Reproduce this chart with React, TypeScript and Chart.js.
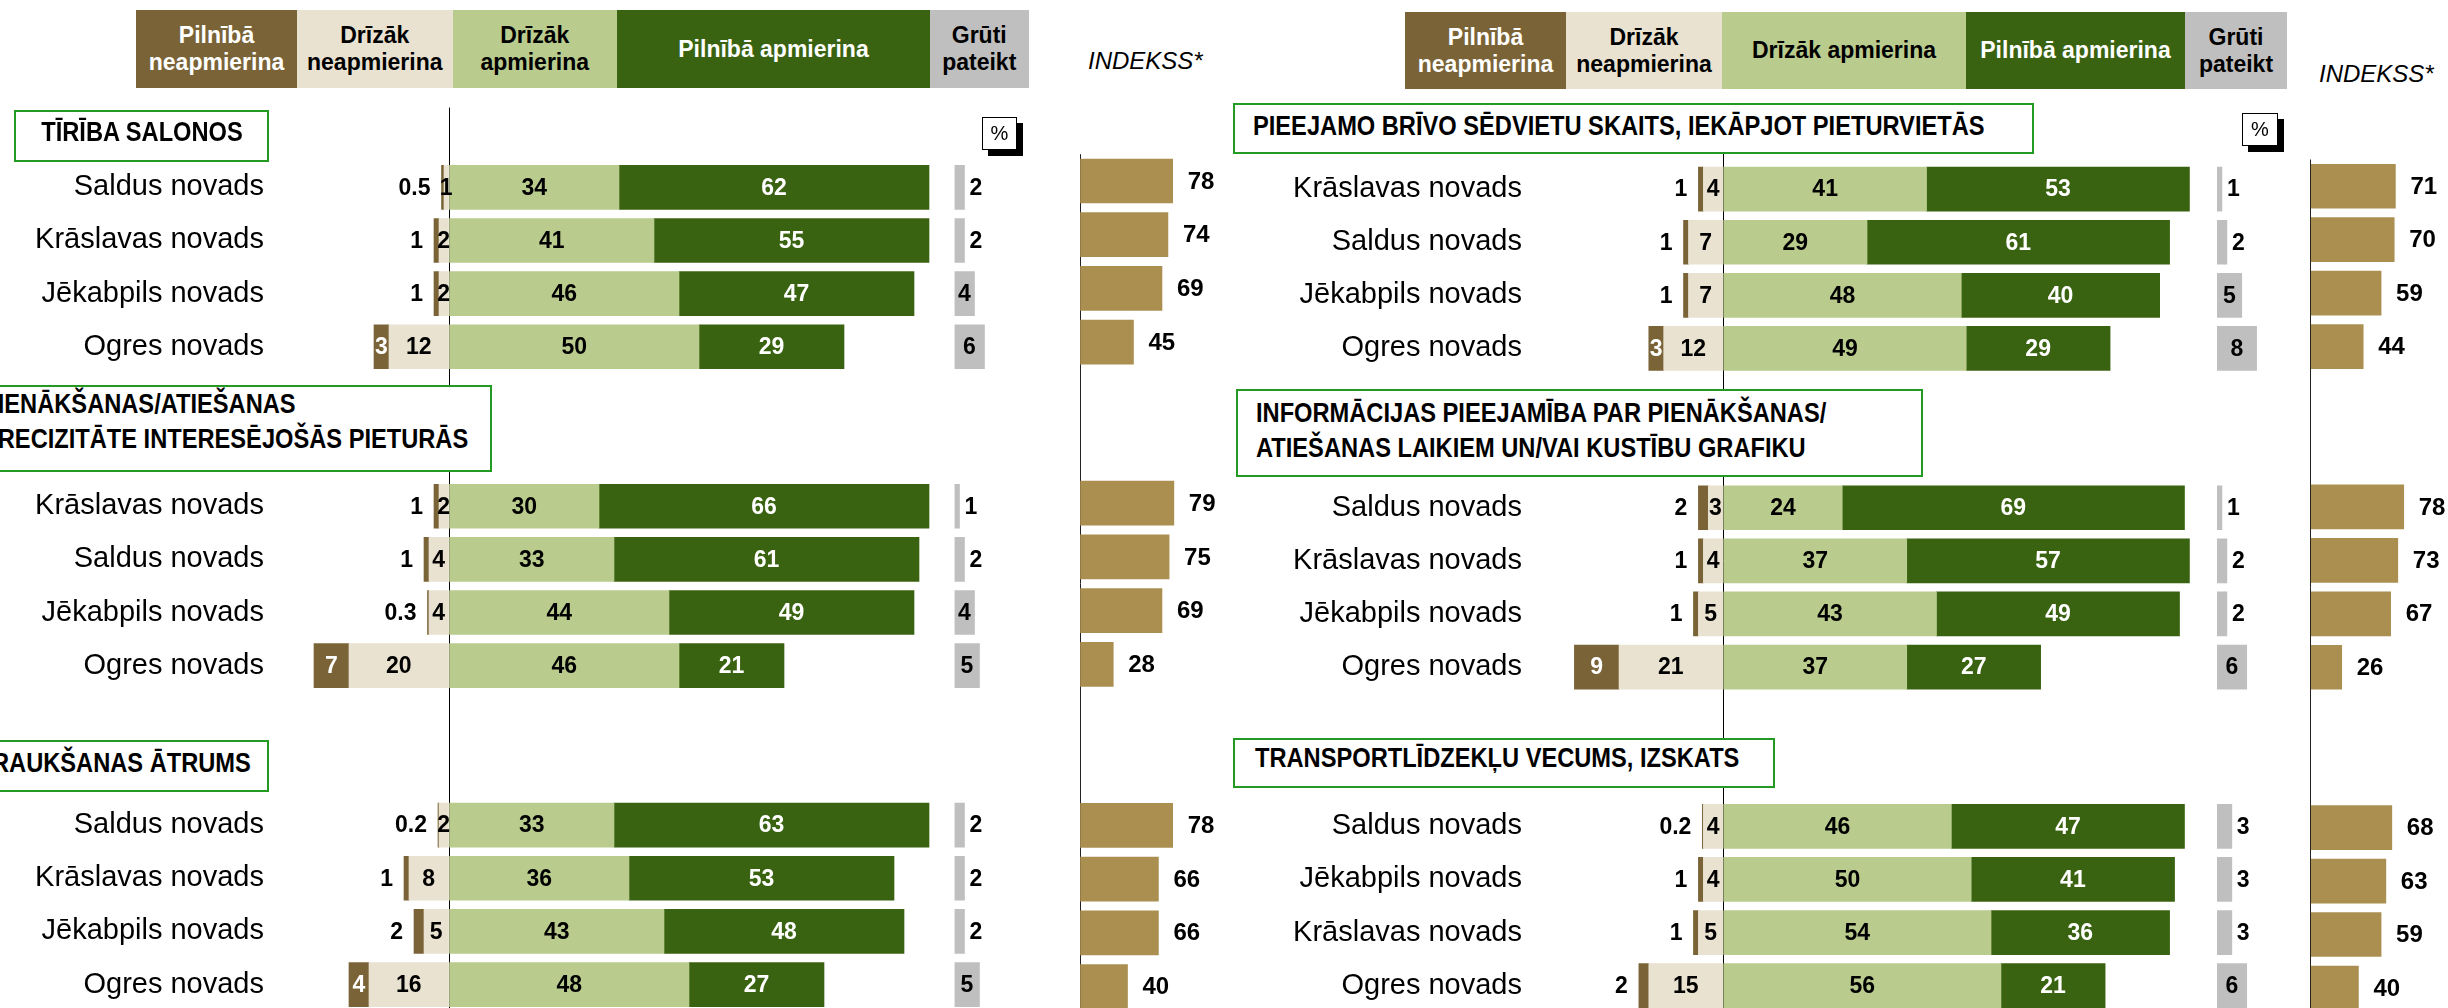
import React, { useEffect, useRef } from 'react';
import { Chart, registerables } from 'chart.js';

Chart.register(...registerables);

const FONT = '"Liberation Sans", Arial, Helvetica, sans-serif';

// ---------------- DATA ----------------
const LEGEND_LABELS = ['Pilnībā neapmierina', 'Drīzāk neapmierina', 'Drīzāk apmierina', 'Pilnībā apmierina', 'Grūti pateikt'];
const INDEX_LABEL = 'INDEKSS*';

// Left panel
const L_TITLES = [
  ['TĪRĪBA SALONOS'],
  ['PIENĀKŠANAS/ATIEŠANAS', 'PRECIZITĀTE INTERESĒJOŠĀS PIETURĀS'],
  ['BRAUKŠANAS ĀTRUMS'],
];
const L_REGIONS = [
  'Saldus novads', 'Krāslavas novads', 'Jēkabpils novads', 'Ogres novads',
  'Krāslavas novads', 'Saldus novads', 'Jēkabpils novads', 'Ogres novads',
  'Saldus novads', 'Krāslavas novads', 'Jēkabpils novads', 'Ogres novads',
];
const L_FULLY_DISSATISFIED = [0.5, 1, 1, 3, 1, 1, 0.3, 7, 0.2, 1, 2, 4];
const L_RATHER_DISSATISFIED = [1, 2, 2, 12, 2, 4, 4, 20, 2, 8, 5, 16];
const L_RATHER_SATISFIED = [34, 41, 46, 50, 30, 33, 44, 46, 33, 36, 43, 48];
const L_FULLY_SATISFIED = [62, 55, 47, 29, 66, 61, 49, 21, 63, 53, 48, 27];
const L_HARD_TO_SAY = [2, 2, 4, 6, 1, 2, 4, 5, 2, 2, 2, 5];
const L_INDEX = [78, 74, 69, 45, 79, 75, 69, 28, 78, 66, 66, 40];

// Right panel
const R_TITLES = [
  ['PIEEJAMO BRĪVO SĒDVIETU SKAITS, IEKĀPJOT PIETURVIETĀS'],
  ['INFORMĀCIJAS PIEEJAMĪBA PAR PIENĀKŠANAS/', 'ATIEŠANAS LAIKIEM UN/VAI KUSTĪBU GRAFIKU'],
  ['TRANSPORTLĪDZEKĻU VECUMS, IZSKATS'],
];
const R_REGIONS = [
  'Krāslavas novads', 'Saldus novads', 'Jēkabpils novads', 'Ogres novads',
  'Saldus novads', 'Krāslavas novads', 'Jēkabpils novads', 'Ogres novads',
  'Saldus novads', 'Jēkabpils novads', 'Krāslavas novads', 'Ogres novads',
];
const R_FULLY_DISSATISFIED = [1, 1, 1, 3, 2, 1, 1, 9, 0.2, 1, 1, 2];
const R_RATHER_DISSATISFIED = [4, 7, 7, 12, 3, 4, 5, 21, 4, 4, 5, 15];
const R_RATHER_SATISFIED = [41, 29, 48, 49, 24, 37, 43, 37, 46, 50, 54, 56];
const R_FULLY_SATISFIED = [53, 61, 40, 29, 69, 57, 49, 27, 47, 41, 36, 21];
const R_HARD_TO_SAY = [1, 2, 5, 8, 1, 2, 2, 6, 3, 3, 3, 6];
const R_INDEX = [71, 70, 59, 44, 78, 73, 67, 26, 68, 63, 59, 40];

// ---------------- STYLE ----------------
const C_BROWN = '#7A6437';
const C_BEIGE = '#E9E2D0';
const C_LGREEN = '#B9CB8D';
const C_DGREEN = '#3A6311';
const C_GRAY = '#BFBFBF';
const C_INDEX = '#AA8F50';
const C_TITLE_BORDER = '#239B23';
const SERIES_COLORS = [C_BROWN, C_BEIGE, C_LGREEN, C_DGREEN, C_GRAY];
const SERIES_TEXT = ['#fff', '#000', '#000', '#fff', '#000'];
const KIND_COLORS: any = { fd: C_BROWN, rd: C_BEIGE, rs: C_LGREEN, fs: C_DGREEN, hard: C_GRAY, idx: C_INDEX };

const LEFT = {
  titles: L_TITLES, regions: L_REGIONS, fd: L_FULLY_DISSATISFIED, rd: L_RATHER_DISSATISFIED,
  rs: L_RATHER_SATISFIED, fs: L_FULLY_SATISFIED, hard: L_HARD_TO_SAY, idx: L_INDEX,
};
const RIGHT = {
  titles: R_TITLES, regions: R_REGIONS, fd: R_FULLY_DISSATISFIED, rd: R_RATHER_DISSATISFIED,
  rs: R_RATHER_SATISFIED, fs: R_FULLY_SATISFIED, hard: R_HARD_TO_SAY, idx: R_INDEX,
};

const LEFT_LAYOUT = {
  mainLeft: 0, labelRight: 264, mainRight: 950, zeroX: 449, unitPx: 5.0,
  rowTop: 107.6, rowStep: 53.15,
  grayLeft: 954.5, grayUnitPx: 5.0,
  idxAxisX: 1080, idxUnitPx: 1.188, idxTop: 154.15, idxStep: 53.7, idxWidth: 150,
  legendX: [136, 297, 452.5, 617, 930, 1028.5], legendTop: 10, legendBottom: 88,
  legendWrap: [true, true, true, false, true],
  indeks: { x: 1088, y: 62 },
  pct: { x: 982, y: 117, w: 35, h: 33 },
  titles: [
    { box: [14, 110, 255, 52], align: 'center', ax: 141.5, ys: [136.3] },
    { box: [-40, 385, 532, 87], align: 'left', ax: -18, ys: [408, 442.5] },
    { box: [-40, 740, 309, 52], align: 'right', ax: 251, ys: [766.5] },
  ],
};
const RIGHT_LAYOUT = {
  mainLeft: 1230, labelRight: 1522, mainRight: 2214, zeroX: 1723.2, unitPx: 4.96,
  rowTop: 109.5, rowStep: 53.1,
  grayLeft: 2217, grayUnitPx: 4.95,
  idxAxisX: 2310.7, idxUnitPx: 1.193, idxTop: 159.5, idxStep: 53.45, idxWidth: 138,
  legendX: [1405, 1566, 1722, 1966, 2185, 2287], legendTop: 12, legendBottom: 89,
  legendWrap: [true, true, false, false, true],
  indeks: { x: 2319, y: 75 },
  pct: { x: 2242, y: 113, w: 36, h: 33 },
  titles: [
    { box: [1233, 103, 801, 51], align: 'left', ax: 1253, ys: [130] },
    { box: [1236, 389, 687, 88], align: 'left', ax: 1256, ys: [417, 452] },
    { box: [1233, 738, 542, 50], align: 'left', ax: 1255, ys: [762] },
  ],
};

// ---------------- HELPERS ----------------
function slots(arr: any[], gap: any, lead: boolean): any[] {
  const out: any[] = lead ? [gap] : [];
  for (let s = 0; s < 3; s++) {
    if (s > 0) out.push(gap, gap);
    for (let k = 0; k < 4; k++) out.push(arr[s * 4 + k]);
  }
  return out;
}

function vBox(top: number, n: number, step: number) {
  const t = Math.floor(top);
  const padTop = top - t;
  const inner = n * step;
  const h = Math.ceil(top + inner) - t;
  return { top: t, height: h, padTop, padBottom: h - padTop - inner };
}

const valueLabels = {
  id: 'valueLabels',
  afterDatasetsDraw(chart: any) {
    const ctx = chart.ctx;
    ctx.save();
    ctx.textBaseline = 'middle';
    chart.data.datasets.forEach((ds: any, di: number) => {
      const meta = chart.getDatasetMeta(di);
      meta.data.forEach((el: any, i: number) => {
        const raw = ds.data[i];
        if (raw === null || raw === undefined) return;
        const v = Math.abs(raw);
        const left = Math.min(el.x, el.base);
        const right = Math.max(el.x, el.base);
        let x = (left + right) / 2;
        let align = 'center';
        let color = '#000';
        ctx.font = `bold ${ds.kind === 'idx' ? 24 : 23}px ${FONT}`;
        if (ds.kind === 'fd') {
          if (v >= 3) color = '#fff';
          else { align = 'right'; x = left - 11; }
        } else if (ds.kind === 'fs') {
          color = '#fff';
        } else if (ds.kind === 'hard') {
          if (v < 4) { align = 'left'; x = right + 5; }
        } else if (ds.kind === 'idx') {
          align = 'left'; x = right + 15;
        }
        ctx.fillStyle = color;
        ctx.textAlign = align;
        ctx.fillText(String(v), x, el.y + 1);
      });
    });
    ctx.restore();
  },
};

const zeroGrid = (col: string) => (c: any) => (c.tick && c.tick.value === 0 ? col : 'rgba(0,0,0,0)');

function baseOptions(vb: any, padLeft = 0) {
  return {
    indexAxis: 'y',
    responsive: false,
    maintainAspectRatio: false,
    animation: false,
    devicePixelRatio: 1,
    layout: { padding: { top: vb.padTop, bottom: vb.padBottom, left: padLeft, right: 0 } },
    plugins: { legend: { display: false }, tooltip: { enabled: false } },
  };
}

function ChartCanvas({ left, top, width, height, config }: any) {
  const ref = useRef<HTMLCanvasElement | null>(null);
  useEffect(() => {
    const chart = new Chart(ref.current as HTMLCanvasElement, config());
    return () => chart.destroy();
  }, []);
  return (
    <canvas ref={ref} width={width} height={height}
      style={{ position: 'absolute', left, top, width, height }} />
  );
}

function Panel({ D, L }: any) {
  // main diverging chart
  const mvb = vBox(L.rowTop, 17, L.rowStep);
  const mainW = L.mainRight - L.mainLeft;
  const axisW = L.labelRight - L.mainLeft;
  const xMin = (L.labelRight - L.zeroX) / L.unitPx;
  const xMax = (L.mainRight - L.zeroX) / L.unitPx;
  const mk = (vals: number[], kind: string, neg: boolean, label: string) => ({
    label, kind,
    data: slots(vals.map((v) => (neg ? -v : v)), null, true),
    backgroundColor: KIND_COLORS[kind], borderWidth: 0, barThickness: 44,
  });
  const mainConfig = () => ({
    type: 'bar',
    data: {
      labels: slots(D.regions, '', true),
      datasets: [
        mk(D.rd, 'rd', true, LEGEND_LABELS[1]),
        mk(D.fd, 'fd', true, LEGEND_LABELS[0]),
        mk(D.rs, 'rs', false, LEGEND_LABELS[2]),
        mk(D.fs, 'fs', false, LEGEND_LABELS[3]),
      ],
    },
    options: {
      ...baseOptions(mvb),
      scales: {
        x: {
          type: 'linear', stacked: true, min: xMin, max: xMax, z: 1,
          border: { display: false },
          ticks: { display: false, stepSize: 10 },
          grid: { drawTicks: false, lineWidth: 1, color: zeroGrid('#000') },
        },
        y: {
          type: 'category', stacked: true,
          border: { display: false }, grid: { display: false, drawTicks: false, tickLength: 0 },
          ticks: { autoSkip: false, padding: 0, color: '#000', font: { family: FONT, size: 29 } },
          afterFit: (s: any) => { s.width = axisW; s.paddingTop = 0; s.paddingBottom = 0; },
        },
      },
    },
    plugins: [valueLabels],
  });

  // hard to say chart
  const gLeft = Math.floor(L.grayLeft);
  const gPad = L.grayLeft - gLeft;
  const gW = 70;
  const grayConfig = () => ({
    type: 'bar',
    data: {
      labels: slots(D.regions, '', true),
      datasets: [{ label: LEGEND_LABELS[4], kind: 'hard', data: slots(D.hard, null, true), backgroundColor: C_GRAY, borderWidth: 0, barThickness: 44 }],
    },
    options: {
      ...baseOptions(mvb, gPad),
      scales: {
        x: { type: 'linear', display: false, min: 0, max: (gW - gPad) / L.grayUnitPx },
        y: { type: 'category', display: false },
      },
    },
    plugins: [valueLabels],
  });

  // index chart
  const ivb = vBox(L.idxTop, 16, L.idxStep);
  const iLeft = Math.floor(L.idxAxisX) - 2;
  const iPad = L.idxAxisX - iLeft;
  const iW = L.idxWidth;
  const idxConfig = () => ({
    type: 'bar',
    data: {
      labels: slots(D.regions, '', false),
      datasets: [{ label: INDEX_LABEL, kind: 'idx', data: slots(D.idx, null, false), backgroundColor: C_INDEX, borderWidth: 0, barThickness: 44 }],
    },
    options: {
      ...baseOptions(ivb, iPad),
      scales: {
        x: {
          type: 'linear', min: 0, max: (iW - iPad) / L.idxUnitPx, z: 1,
          border: { display: false },
          ticks: { display: false, stepSize: 10 },
          grid: { drawTicks: false, lineWidth: 1, color: zeroGrid('#222') },
        },
        y: { type: 'category', display: false },
      },
    },
    plugins: [valueLabels],
  });

  const legH = L.legendBottom - L.legendTop;

  return (
    <>
      <ChartCanvas left={L.mainLeft} top={mvb.top} width={mainW} height={mvb.height} config={mainConfig} />
      <ChartCanvas left={gLeft} top={mvb.top} width={gW} height={mvb.height} config={grayConfig} />
      <ChartCanvas left={iLeft} top={ivb.top} width={iW} height={ivb.height} config={idxConfig} />

      {LEGEND_LABELS.map((lab, i) => {
        const lines = L.legendWrap[i] ? lab.split(' ') : [lab];
        return (
          <div key={'lg' + i} style={{
            position: 'absolute', left: L.legendX[i], top: L.legendTop,
            width: L.legendX[i + 1] - L.legendX[i], height: legH,
            background: SERIES_COLORS[i], color: SERIES_TEXT[i],
            display: 'flex', flexDirection: 'column', justifyContent: 'center', alignItems: 'center',
            font: `bold 23px ${FONT}`, lineHeight: '27px', whiteSpace: 'nowrap',
          }}>
            {lines.map((t, k) => <div key={k}>{t}</div>)}
          </div>
        );
      })}

      <div style={{
        position: 'absolute', left: L.indeks.x, top: L.indeks.y - 15, height: 30, lineHeight: '30px',
        font: `italic 24px ${FONT}`, color: '#000', whiteSpace: 'nowrap',
      }}>{INDEX_LABEL}</div>

      <div style={{
        position: 'absolute', left: L.pct.x, top: L.pct.y, width: L.pct.w, height: L.pct.h,
        boxSizing: 'border-box', border: '1px solid #000', background: '#fff',
        boxShadow: '6px 6px 0 #000', display: 'flex', alignItems: 'center', justifyContent: 'center',
        font: `20px ${FONT}`, color: '#000',
      }}>%</div>

      {L.titles.map((t: any, si: number) => (
        <React.Fragment key={'t' + si}>
          <div style={{
            position: 'absolute', left: t.box[0], top: t.box[1], width: t.box[2], height: t.box[3],
            boxSizing: 'border-box', border: `2px solid ${C_TITLE_BORDER}`, background: '#fff',
          }} />
          {D.titles[si].map((line: string, li: number) => {
            const st: any = {
              position: 'absolute', top: t.ys[li] - 20, height: 40, lineHeight: '40px',
              font: `bold 27.5px ${FONT}`, color: '#000', whiteSpace: 'nowrap',
              transform: 'scaleX(0.86)',
            };
            if (t.align === 'left') { st.left = t.ax; st.transformOrigin = 'left center'; }
            else if (t.align === 'right') { st.right = 2448 - t.ax; st.transformOrigin = 'right center'; st.textAlign = 'right'; }
            else { st.left = t.ax - 600; st.width = 1200; st.textAlign = 'center'; st.transformOrigin = 'center center'; }
            return <div key={li} style={st}>{line}</div>;
          })}
        </React.Fragment>
      ))}
    </>
  );
}

export default function App() {
  return (
    <div style={{
      position: 'fixed', left: 0, top: 0, width: 2448, height: 1008, overflow: 'hidden',
      background: '#fff', fontFamily: FONT,
    }}>
      <Panel D={LEFT} L={LEFT_LAYOUT} />
      <Panel D={RIGHT} L={RIGHT_LAYOUT} />
    </div>
  );
}
